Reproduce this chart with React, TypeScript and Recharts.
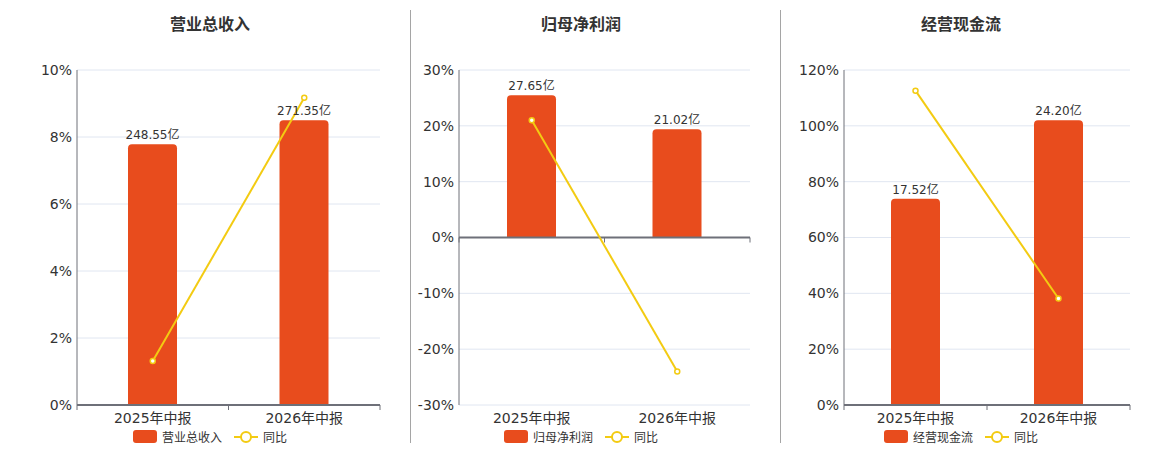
import React from 'react';
import {
  ComposedChart,
  Bar,
  Line,
  XAxis,
  YAxis,
  CartesianGrid,
  LabelList,
  ReferenceLine,
} from 'recharts';

const CATEGORIES = ['2025年中报', '2026年中报'];

const REVENUE = [248.55, 271.35];
const REVENUE_YOY = [1.31, 9.17];
const REVENUE_TICKS = [0, 2, 4, 6, 8, 10];

const PROFIT = [27.65, 21.02];
const PROFIT_YOY = [21.0, -23.98];
const PROFIT_TICKS = [-30, -20, -10, 0, 10, 20, 30];

const CASHFLOW = [17.52, 24.2];
const CASHFLOW_YOY = [112.6, 38.13];
const CASHFLOW_TICKS = [0, 20, 40, 60, 80, 100, 120];

const BAR_COLOR = '#E84C1D';
const LINE_COLOR = '#F3CB12';
const AXIS_COLOR = '#6E7079';
const GRID_COLOR = '#E0E6F1';
const TEXT_COLOR = '#333';
const FONT = '"DejaVu Sans", "Noto Sans CJK SC", sans-serif';

const CHART_H = 450;

type PanelProps = {
  title: string;
  seriesName: string;
  amounts: number[];
  yoy: number[];
  ticks: number[];
  left: number;
  width: number;
  yAxisWidth: number;
  center: number;
};

// x axis drawn on the zero line, with ticks at the category boundaries
const ZeroAxis = (props: any) => {
  const { x1, x2, y1 } = props;
  const mid = (x1 + x2) / 2;
  return (
    <g>
      <line x1={x1} x2={x2} y1={y1} y2={y1} stroke={AXIS_COLOR} strokeWidth={2} />
      {[x1, mid, x2].map((x: number) => (
        <line key={x} x1={x} x2={x} y1={y1} y2={y1 + 5} stroke={AXIS_COLOR} strokeWidth={1} />
      ))}
    </g>
  );
};

function Panel({ title, seriesName, amounts, yoy, ticks, left, width, yAxisWidth, center }: PanelProps) {
  const data = CATEGORIES.map((name, i) => ({ name, amount: amounts[i], yoy: yoy[i] }));
  const pctMin = ticks[0];
  const pctMax = ticks[ticks.length - 1];
  const barMax = Math.max(...amounts) / 0.85;
  const barMin = (pctMin / pctMax) * barMax;

  return (
    <>
      <div
        style={{
          position: 'absolute',
          left: center - 100,
          width: 200,
          top: 11,
          textAlign: 'center',
          fontSize: 16,
          fontWeight: 'bold',
          color: TEXT_COLOR,
          fontFamily: FONT,
        }}
      >
        {title}
      </div>
      <div style={{ position: 'absolute', left, top: 0 }}>
        <ComposedChart
          width={width}
          height={CHART_H}
          data={data}
          margin={{ top: 70, right: 10, left: 0, bottom: 15 }}
          barCategoryGap={0}
        >
          <CartesianGrid yAxisId="pct" vertical={false} stroke={GRID_COLOR} />
          <XAxis
            dataKey="name"
            height={30}
            axisLine={false}
            tickLine={false}
            tick={{ fontSize: 14, fill: TEXT_COLOR, fontFamily: FONT }}
            interval={0}
          />
          <YAxis
            yAxisId="pct"
            orientation="left"
            width={yAxisWidth}
            domain={[pctMin, pctMax]}
            ticks={ticks}
            interval={0}
            tickFormatter={(v: number) => `${v}%`}
            axisLine={{ stroke: AXIS_COLOR }}
            tickLine={false}
            tickSize={3}
            tickMargin={2}
            tick={{ fontSize: 14, fill: TEXT_COLOR, fontFamily: FONT }}
          />
          <YAxis yAxisId="bar" orientation="right" hide domain={[barMin, barMax]} />
          <ReferenceLine yAxisId="pct" y={0} shape={ZeroAxis} />
          <Bar yAxisId="bar" dataKey="amount" fill={BAR_COLOR} barSize={49} radius={[4, 4, 0, 0]} isAnimationActive={false}>
            <LabelList
              dataKey="amount"
              position="top"
              offset={5}
              formatter={(v: any) => `${Number(v).toFixed(2)}亿`}
              style={{ fontSize: 12, fill: TEXT_COLOR, fontFamily: FONT }}
            />
          </Bar>
          <Line
            yAxisId="pct"
            dataKey="yoy"
            stroke={LINE_COLOR}
            strokeWidth={2}
            dot={{ r: 2.5, fill: '#fff', stroke: LINE_COLOR, strokeWidth: 1.5 }}
            isAnimationActive={false}
          />
        </ComposedChart>
      </div>
      <div
        style={{
          position: 'absolute',
          left: center - 150,
          width: 300,
          top: 428,
          display: 'flex',
          justifyContent: 'center',
          alignItems: 'center',
          fontSize: 12,
          color: TEXT_COLOR,
          fontFamily: FONT,
        }}
      >
        <span style={{ width: 24, height: 13, borderRadius: 3, background: BAR_COLOR, marginRight: 5 }} />
        <span style={{ marginRight: 12 }}>{seriesName}</span>
        <svg width={24} height={14} style={{ marginRight: 5 }}>
          <line x1={0} x2={24} y1={7} y2={7} stroke={LINE_COLOR} strokeWidth={2} />
          <circle cx={12} cy={7} r={5} fill="#fff" stroke={LINE_COLOR} strokeWidth={2} />
        </svg>
        <span>同比</span>
      </div>
    </>
  );
}

export default function App() {
  return (
    <div style={{ position: 'fixed', left: 0, top: 0, width: 1160, height: 450, background: '#fff', overflow: 'hidden' }}>
      <div style={{ position: 'absolute', left: 410, top: 10, width: 1, height: 433, background: '#A5A5A5' }} />
      <div style={{ position: 'absolute', left: 780, top: 10, width: 1, height: 433, background: '#A5A5A5' }} />
      <Panel
        title="营业总收入"
        seriesName="营业总收入"
        amounts={REVENUE}
        yoy={REVENUE_YOY}
        ticks={REVENUE_TICKS}
        left={0}
        width={390}
        yAxisWidth={77}
        center={210}
      />
      <Panel
        title="归母净利润"
        seriesName="归母净利润"
        amounts={PROFIT}
        yoy={PROFIT_YOY}
        ticks={PROFIT_TICKS}
        left={411}
        width={349}
        yAxisWidth={48}
        center={581}
      />
      <Panel
        title="经营现金流"
        seriesName="经营现金流"
        amounts={CASHFLOW}
        yoy={CASHFLOW_YOY}
        ticks={CASHFLOW_TICKS}
        left={782}
        width={358}
        yAxisWidth={62}
        center={961}
      />
    </div>
  );
}
